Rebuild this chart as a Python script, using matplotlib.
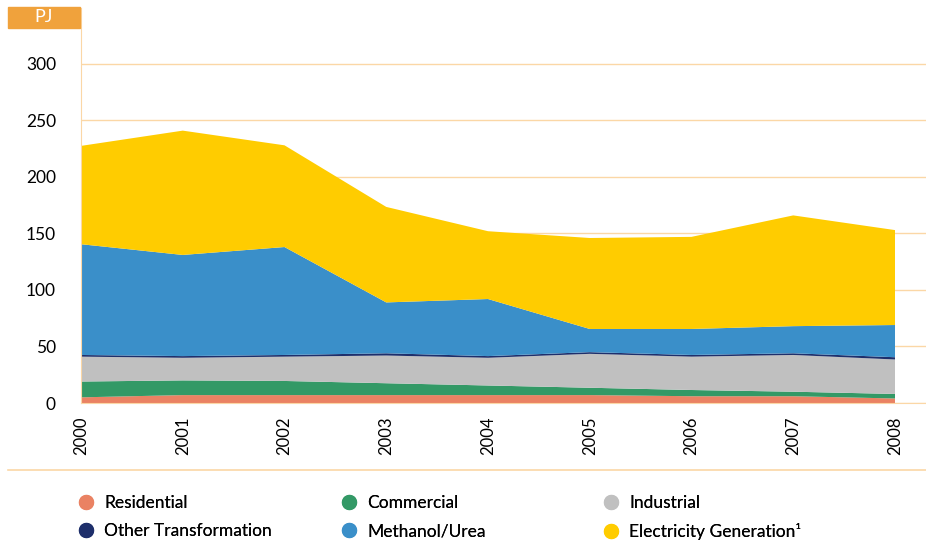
import numpy as np
import matplotlib.pyplot as plt
from matplotlib.lines import Line2D
from matplotlib.patches import Rectangle

plt.rcParams['font.family'] = ['Lato', 'DejaVu Sans']

years = [2000, 2001, 2002, 2003, 2004, 2005, 2006, 2007, 2008]
residential = [5, 7, 7, 7, 7, 7, 6, 6, 4]
commercial = [14, 13, 12.5, 10.5, 8.5, 6.5, 5.5, 4, 4]
industrial = [22, 20, 21.5, 24.5, 24.5, 30, 29.5, 32.5, 30.5]
other_transformation = [1.5, 1.5, 1.5, 2, 1.5, 1.5, 1.5, 1.5, 2]
methanol_urea = [98, 89.5, 95.5, 45, 50.5, 20.5, 23, 24, 28.5]
electricity = [87, 110, 90, 84.5, 60, 80.5, 81.5, 98, 84]

labels = ['Residential', 'Commercial', 'Industrial', 'Other Transformation',
          'Methanol/Urea', 'Electricity Generation\u00b9']
colors = ['#ea8263', '#339966', '#c0c0c0', '#1e2f6b', '#3a8fc9', '#ffcc00']
grid_col = '#fbd7a6'

fig = plt.figure(figsize=(9.26, 5.44), dpi=100)
ax = fig.add_axes([81 / 926, 1 - 403 / 544, 1 - 81 / 926, (403 - 8) / 544])

ax.stackplot(years, residential, commercial, industrial, other_transformation,
             methanol_urea, electricity, colors=colors, zorder=2, linewidth=0)

ax.set_xlim(2000, 2008 + 31 / 101.75)
ax.set_ylim(0, 349.5)
ax.set_yticks([0, 50, 100, 150, 200, 250, 300])
ax.set_xticks(years)
ax.set_xticklabels([str(y) for y in years], rotation=90, fontsize=12)
ax.tick_params(axis='y', length=0, pad=18, labelsize=12.5)
ax.tick_params(axis='x', length=0, pad=10)
ax.grid(axis='y', color=grid_col, linewidth=1, zorder=0)
ax.set_axisbelow(True)
for s in ['top', 'right']:
    ax.spines[s].set_visible(False)
ax.spines['left'].set_color(grid_col)
ax.spines['bottom'].set_color(grid_col)

# PJ unit box
fig.patches.append(Rectangle((8 / 926, 1 - 28 / 544), 72 / 926, 21 / 544,
                             transform=fig.transFigure, color='#f0a23c', zorder=1))
fig.text(44 / 926, 1 - 17.5 / 544, 'PJ', color='white', fontsize=13,
         ha='center', va='center', zorder=10)

# separator line above legend
fig.add_artist(Line2D([8 / 926, 1], [1 - 470 / 544, 1 - 470 / 544],
                      color=grid_col, linewidth=1.2, transform=fig.transFigure))

handles = [Line2D([], [], marker='o', linestyle='', markersize=10,
                  color=c, label=l) for c, l in zip(colors, labels)]
col_x = [77, 340, 602]
for k in range(3):
    leg = fig.legend([handles[k], handles[k + 3]], [labels[k], labels[k + 3]],
                     loc='upper left', bbox_to_anchor=(col_x[k] / 926, 1 - 495 / 544),
                     frameon=False, fontsize=12.5, handletextpad=0.55,
                     labelspacing=0.7, handlelength=1.0, borderaxespad=0,
                     borderpad=0)
    fig.add_artist(leg)

fig.savefig('out.png', dpi=100)
